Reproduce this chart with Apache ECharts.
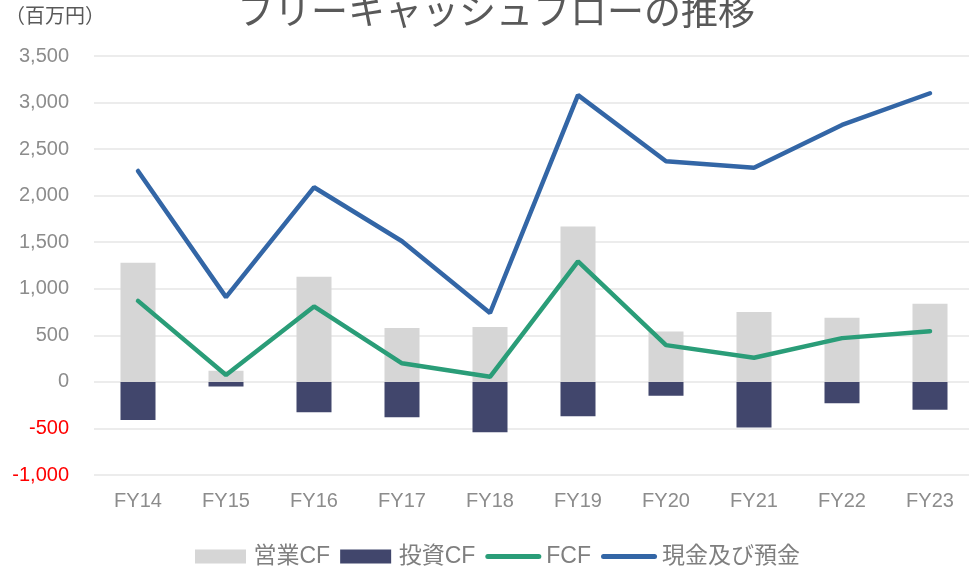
<!DOCTYPE html>
<html>
<head>
<meta charset="utf-8">
<script src="https://cdn.jsdelivr.net/npm/echarts@6/dist/echarts.min.js"></script>
<style>
  html, body { margin: 0; padding: 0; background: #fff; overflow: hidden; }
  #main { width: 976px; height: 569px; }
</style>
</head>
<body>
<div id="main"></div>
<script>
// 年度
const years = ['FY14', 'FY15', 'FY16', 'FY17', 'FY18', 'FY19', 'FY20', 'FY21', 'FY22', 'FY23'];
// 営業CF / 投資CF / FCF / 現金及び預金（百万円）
const operatingCF = [1280, 120, 1130, 580, 590, 1670, 540, 750, 690, 840];
const investingCF = [-410, -50, -325, -380, -540, -370, -150, -490, -230, -300];
const freeCF = [870, 75, 810, 200, 55, 1295, 395, 260, 470, 545];
const cashDeposits = [2265, 910, 2090, 1510, 740, 3080, 2370, 2300, 2760, 3100];

const fontFamily = "'Liberation Sans', 'Noto Sans CJK JP', sans-serif";
// 凡例アイコン（四角と丸い端の線）
const rectIcon = 'path://M0,0 L51,0 L51,14 L0,14 Z';
const lineIcon = 'path://M2.5,0 L53.5,0 A2.5,2.5 0 0 1 53.5,5 L2.5,5 A2.5,2.5 0 0 1 2.5,0 Z';

const chart = echarts.init(document.getElementById('main'));
const option = {
  animation: false,
  textStyle: { fontFamily: fontFamily },
  title: {
    text: 'フリーキャッシュフローの推移',
    left: 232,
    top: -9,
    textStyle: { fontSize: 37, fontWeight: 'normal', color: '#595959', fontFamily: fontFamily }
  },
  graphic: [
    {
      type: 'text',
      left: 5,
      top: 7,
      style: { text: '（百万円）', fontSize: 20, fill: '#595959', fontFamily: fontFamily }
    }
  ],
  legend: {
    bottom: -4,
    left: 190,
    itemGap: 10,
    itemWidth: 56,
    itemHeight: 14,
    textStyle: { fontSize: 23, color: '#7f7f7f', padding: [0, 0, 0, 0] },
    data: [
      { name: '営業CF', icon: rectIcon },
      { name: '投資CF', icon: rectIcon },
      { name: 'FCF', icon: lineIcon, textStyle: { padding: [0, 0, 7, 0] } },
      { name: '現金及び預金', icon: lineIcon }
    ]
  },
  grid: { left: 94, width: 880, top: 56, bottom: 94 },
  xAxis: {
    type: 'category',
    data: years,
    axisLine: { show: false },
    axisTick: { show: false },
    axisLabel: { fontSize: 20, color: '#8c8c8c', margin: 16 }
  },
  yAxis: {
    type: 'value',
    min: -1000,
    max: 3500,
    interval: 500,
    axisLabel: {
      fontSize: 20,
      margin: 25,
      formatter: function (v) { return v.toLocaleString('en-US'); },
      color: function (v) { return Number(v) < 0 ? '#ff0000' : '#8c8c8c'; }
    },
    splitLine: { lineStyle: { color: '#e6e6e6', width: 1.5 } }
  },
  series: [
    {
      name: '営業CF',
      type: 'bar',
      data: operatingCF,
      barWidth: 35,
      barGap: '-100%',
      itemStyle: { color: '#d6d6d6' }
    },
    {
      name: '投資CF',
      type: 'bar',
      data: investingCF,
      barWidth: 35,
      itemStyle: { color: '#41466c' }
    },
    {
      name: 'FCF',
      type: 'line',
      data: freeCF,
      symbol: 'none',
      lineStyle: { color: '#2a9d78', width: 4.5, cap: 'round' },
      itemStyle: { color: '#2a9d78' }
    },
    {
      name: '現金及び預金',
      type: 'line',
      data: cashDeposits,
      symbol: 'none',
      lineStyle: { color: '#3366a6', width: 4.5, cap: 'round' },
      itemStyle: { color: '#3366a6' }
    }
  ]
};
chart.setOption(option);
</script>
</body>
</html>
